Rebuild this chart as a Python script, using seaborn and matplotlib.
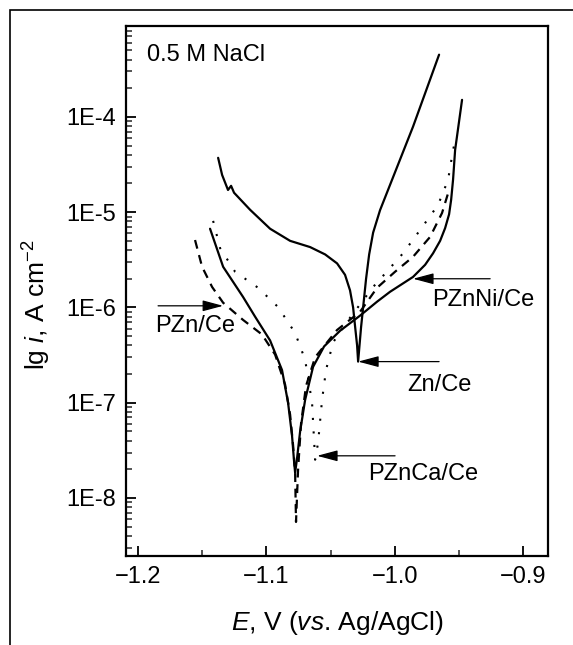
import numpy as np
import pandas as pd
import seaborn as sns
import matplotlib
matplotlib.use("Agg")
import matplotlib.pyplot as plt
from matplotlib.ticker import MultipleLocator, LogLocator, NullFormatter
from matplotlib.patches import Rectangle

# ---------------- data ----------------
zn_E = [-1.1376, -1.1345, -1.1299, -1.1275, -1.1252, -1.1127, -1.0971, -1.0815,
        -1.0659, -1.0542, -1.0449, -1.0387, -1.0348, -1.0324, -1.0308, -1.0293,
        -1.0285, -1.0262, -1.0246, -1.0223, -1.0199, -1.0168, -1.0114, -0.9857,
        -0.9654]
zn_i = [3.72e-5, 2.46e-5, 1.71e-5, 1.89e-5, 1.60e-5, 1.06e-5, 6.7e-6, 5.0e-6,
        4.3e-6, 3.6e-6, 2.9e-6, 2.2e-6, 1.51e-6, 1.0e-6, 6.2e-7, 4.0e-7,
        2.7e-7, 6.2e-7, 1.0e-6, 2.0e-6, 3.6e-6, 6.1e-6, 1.05e-5, 7.9e-5,
        4.5e-4]

pznni_E = [-1.1439, -1.1337, -1.1182, -1.1088, -1.0971, -1.0878, -1.0831, -1.0800,
           -1.0784, -1.0776, -1.0761, -1.0737, -1.0698, -1.0636, -1.0550, -1.0425,
           -1.0270, -1.0137, -1.0036, -0.9857, -0.9763, -0.9701, -0.9646, -0.9607,
           -0.9576, -0.9560, -0.9545, -0.9529, -0.9475]
pznni_i = [6.7e-6, 2.67e-6, 1.29e-6, 8.0e-7, 4.5e-7, 2.2e-7, 1.0e-7, 4.5e-8,
           2.4e-8, 1.84e-8, 2.6e-8, 5.0e-8, 1.07e-7, 2.38e-7, 3.9e-7, 5.7e-7,
           8.2e-7, 1.15e-6, 1.46e-6, 2.09e-6, 2.8e-6, 3.7e-6, 5.0e-6, 6.8e-6,
           9.5e-6, 1.35e-5, 2.2e-5, 4.5e-5, 1.51e-4]

pzn_E = [-1.1556, -1.1501, -1.1423, -1.1337, -1.1182, -1.1034, -1.0932, -1.0854,
         -1.0815, -1.0792, -1.0776, -1.0769, -1.0753, -1.0730, -1.0691, -1.0620,
         -1.0449, -1.0270, -1.0137, -0.9997, -0.9857, -0.9724, -0.9631, -0.9576]
pzn_i = [5.1e-6, 2.67e-6, 1.64e-6, 1.12e-6, 7.4e-7, 5.2e-7, 3.2e-7, 1.55e-7,
         7.5e-8, 3.6e-8, 1.84e-8, 5.6e-9, 1.98e-8, 6.0e-8, 1.5e-7, 3.0e-7,
         5.8e-7, 9.0e-7, 1.61e-6, 2.37e-6, 3.4e-6, 5.5e-6, 9.8e-6, 1.71e-5]

pznca_E = [-1.1415, -1.1361, -1.1244, -1.1065, -1.0909, -1.0776, -1.0698, -1.0644,
           -1.0620, -1.0597, -1.0566, -1.0535, -1.0480, -1.0348, -1.0168, -1.0090,
           -0.9935, -0.9802, -0.9662, -0.9584, -0.9545, -0.9521]
pznca_i = [8.1e-6, 4.2e-6, 2.37e-6, 1.61e-6, 1.01e-6, 5.4e-7, 2.82e-7, 1.00e-7,
           2.52e-8, 3.8e-8, 1.07e-7, 2.21e-7, 4.3e-7, 7.8e-7, 1.64e-6, 2.15e-6,
           3.7e-6, 6.5e-6, 1.19e-5, 2.18e-5, 4.5e-5, 6.2e-5]

x_ticks = [-1.2, -1.1, -1.0, -0.9]
x_labels = ["\u22121.2", "\u22121.1", "\u22121.0", "\u22120.9"]
y_ticks = [1e-8, 1e-7, 1e-6, 1e-5, 1e-4]
y_labels = ["1E-8", "1E-7", "1E-6", "1E-5", "1E-4"]

labels = ["PZnNi/Ce", "Zn/Ce", "PZnCa/Ce", "PZn/Ce"]
arrow_tail_E = [-0.9256, -0.9654, -0.9997, -1.1844]
arrow_head_E = [-0.9857, -1.0285, -1.0605, -1.1337]
arrow_i = [2.0e-6, 2.7e-7, 2.77e-8, 1.04e-6]
text_E = [-0.9708, -0.9903, -1.0207, -1.1868]
text_i = [1.2e-6, 1.54e-7, 1.79e-8, 6.4e-7]

# ---------------- style ----------------
sns.set_theme(style="ticks")
plt.rcParams["font.family"] = ["Liberation Sans", "DejaVu Sans"]
plt.rcParams["mathtext.fontset"] = "custom"
plt.rcParams["mathtext.rm"] = "Liberation Sans"
plt.rcParams["mathtext.it"] = "Liberation Sans:italic"
plt.rcParams["axes.unicode_minus"] = True
plt.rcParams["xtick.direction"] = "in"
plt.rcParams["ytick.direction"] = "in"
plt.rcParams["xtick.top"] = False
plt.rcParams["ytick.right"] = False

fig = plt.figure(figsize=(5.73, 6.45), dpi=100)
ax = fig.add_axes([0.2199, 0.1380, 0.7365, 0.8217])

lw = 1.6
sns.lineplot(x=zn_E, y=zn_i, ax=ax, color="black", lw=lw, sort=False, estimator=None)
sns.lineplot(x=pznni_E, y=pznni_i, ax=ax, color="black", lw=lw, sort=False, estimator=None)
sns.lineplot(x=pzn_E, y=pzn_i, ax=ax, color="black", lw=lw, sort=False, estimator=None,
             linestyle=(0, (4.0, 3.0)))
sns.lineplot(x=pznca_E, y=pznca_i, ax=ax, color="black", lw=1.5, sort=False, estimator=None,
             linestyle=(0, (1, 5.5)))

ax.set_yscale("log")
ax.set_xlim(-1.2094, -0.8805)
ax.set_ylim(2.46e-9, 9.0e-4)

ax.set_xticks(x_ticks, x_labels)
ax.xaxis.set_minor_locator(MultipleLocator(0.05))
ax.set_yticks(y_ticks, y_labels)
ax.yaxis.set_minor_locator(LogLocator(base=10, subs=np.arange(2, 10)))
ax.yaxis.set_minor_formatter(NullFormatter())
ax.xaxis.set_ticks_position("bottom")
ax.yaxis.set_ticks_position("left")

ax.tick_params(axis="both", which="major", direction="in", length=7, width=1.3,
               labelsize=17, pad=7, colors="black")
ax.tick_params(axis="both", which="minor", direction="in", length=4.5, width=1.1)
for s in ax.spines.values():
    s.set_linewidth(1.6)
    s.set_color("black")
    s.set_visible(True)

ax.set_xlabel("$E$, V ($vs$. Ag/AgCl)", fontsize=19, color="black")
ax.set_ylabel("lg $i$, A cm$^{-2}$", fontsize=19, color="black")
ax.xaxis.set_label_coords(0.5, -0.100)
ax.yaxis.set_label_coords(-0.172, 0.474)

ax.text(0.05, 0.945, "0.5 M NaCl", transform=ax.transAxes, fontsize=17,
        ha="left", va="center", color="black")

for lab, te, he, ai, tx, ti in zip(labels, arrow_tail_E, arrow_head_E, arrow_i, text_E, text_i):
    ax.annotate("", xy=(he, ai), xytext=(te, ai),
                arrowprops=dict(arrowstyle="-|>,head_length=0.9,head_width=0.24",
                                color="black", lw=0.9, shrinkA=0, shrinkB=0,
                                mutation_scale=14))
    ax.text(tx, ti, lab, fontsize=17, ha="left", va="center", color="black")

# outer frame (cut off at the right and bottom, as in the reference)
fig.add_artist(Rectangle((10 / 573, -0.1), 2.0, 1.1 - 10 / 645, transform=fig.transFigure,
                         fill=False, edgecolor="black", lw=1.2, clip_on=False))

fig.savefig("out.png", dpi=100)
